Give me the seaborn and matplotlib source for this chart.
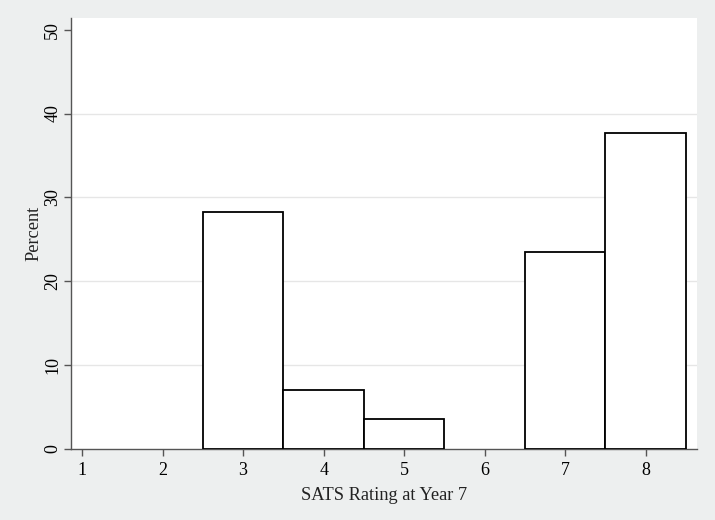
import pandas as pd
import seaborn as sns
import matplotlib.pyplot as plt

ratings = [3, 4, 5, 7, 8]
percents = [28.24, 7.06, 3.53, 23.53, 37.65]
x_ticks = [1, 2, 3, 4, 5, 6, 7, 8]
y_ticks = [0, 10, 20, 30, 40, 50]

df = pd.DataFrame({'Rating': ratings, 'Percent': percents})

sns.set_theme(style='white')
plt.rcParams['font.family'] = ['Liberation Serif', 'DejaVu Serif']

bg = '#edefef'
fig = plt.figure(figsize=(7.15, 5.2), dpi=100, facecolor=bg)
ax = fig.add_axes([0.0993, 0.1365, 0.8755, 0.829])
ax.set_facecolor('white')

sns.barplot(data=df, x='Rating', y='Percent', native_scale=True, width=1,
            color='white', edgecolor='black', linewidth=1.3, ax=ax, zorder=3)

ax.set_xlim(0.863, 8.636)
ax.set_ylim(0, 51.4)
ax.set_xticks(x_ticks)
ax.set_yticks(y_ticks)
ax.set_yticklabels([str(v) for v in y_ticks], rotation=90, va='center')
for v in y_ticks[1:-1]:
    ax.axhline(v, color='#e6e6e6', linewidth=1, zorder=1)

for s in ['top', 'right']:
    ax.spines[s].set_visible(False)
for s in ['left', 'bottom']:
    ax.spines[s].set_color('#555555')
    ax.spines[s].set_linewidth(1)

ax.tick_params(axis='both', which='major', length=5, width=1, color='#555555',
               labelsize=13, labelcolor='black', direction='out', bottom=True, left=True, pad=4)
ax.tick_params(axis='y', pad=2)
ax.set_xlabel('SATS Rating at Year 7', fontsize=13.2, color='#222222', labelpad=6)
ax.set_ylabel('Percent', fontsize=13.2, color='#222222', labelpad=1)

fig.savefig('out.png', dpi=100, facecolor=bg)
